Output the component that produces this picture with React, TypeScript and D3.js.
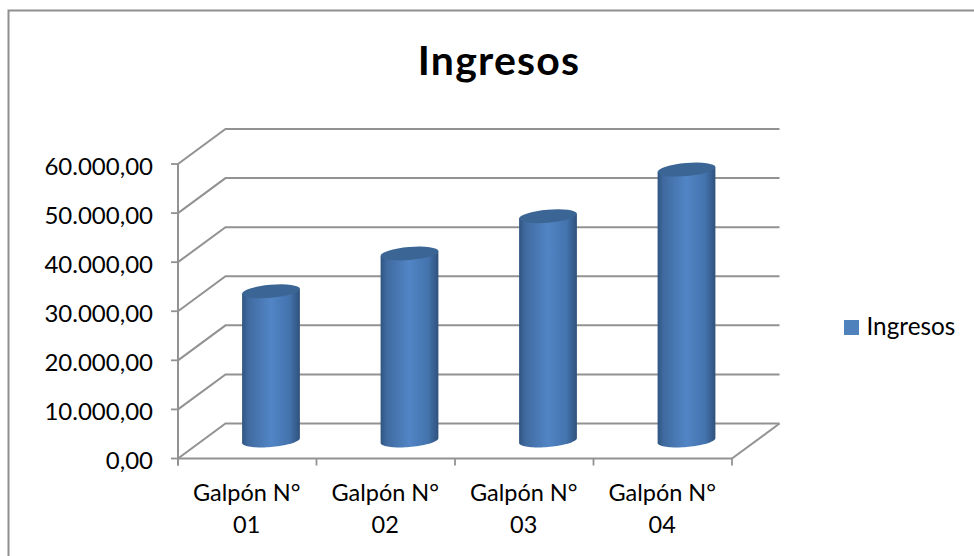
import React from "react";
import { scaleLinear, scaleBand, range, line, curveLinear } from "d3";

const categories = ["Galpón N° 01", "Galpón N° 02", "Galpón N° 03", "Galpón N° 04"];
const ingresos = [30400, 38100, 45700, 55200];
const yTicks = [0, 10000, 20000, 30000, 40000, 50000, 60000];
const yLabels = ["0,00", "10.000,00", "20.000,00", "30.000,00", "40.000,00", "50.000,00", "60.000,00"];
const title = "Ingresos";
const seriesName = "Ingresos";

const FONT = "Lato, Carlito, 'Open Sans', sans-serif";
const GRID = "#929292";

export default function App() {
  const x0 = 178, x1 = 732, y0 = 458.5, yTop = 164;
  const dx = 47.5, dy = -35;
  const y = scaleLinear().domain([0, 60000]).range([y0, yTop]);
  const x = scaleBand<string>().domain(categories).range([x0, x1]);
  const barW = 58;
  const rx = barW / 2, ry = 6.5, tilt = -5;
  const a = (tilt * Math.PI) / 180;
  const baseOffsetX = dx / 2, baseOffsetY = -18;
  const t0 = Math.atan2(-ry * Math.sin(a), rx * Math.cos(a));
  const ex = (t: number) => rx * Math.cos(t) * Math.cos(a) - ry * Math.sin(t) * Math.sin(a);
  const ey = (t: number) => rx * Math.cos(t) * Math.sin(a) + ry * Math.sin(t) * Math.cos(a);
  const steps = range(0, 41).map((k) => t0 + (k / 40) * Math.PI);
  const path = line<[number, number]>().curve(curveLinear);

  return (
    <svg width={974} height={556} style={{ position: "absolute", left: 0, top: 0, background: "#fff" }}>
      <defs>
        <linearGradient id="cyl" x1="0" x2="1" y1="0" y2="0">
          <stop offset="0" stopColor="#2f5480" />
          <stop offset="0.1" stopColor="#3f6a9f" />
          <stop offset="0.5" stopColor="#5285c6" />
          <stop offset="0.82" stopColor="#4473ad" />
          <stop offset="1" stopColor="#2f527c" />
        </linearGradient>
      </defs>
      <path d="M8.5,556V10.5H974" fill="none" stroke="#8f8f8f" strokeWidth={2} />

      <text x={499} y={75} textAnchor="middle" fontFamily={FONT} fontWeight={700} fontSize={41} letterSpacing={1.2} fill="#000">{title}</text>

      {yTicks.map((t) => (
        <g key={t}>
          <path d={`M${x0},${y(t)}L${x0 + dx},${y(t) + dy}H${x1 + dx}`} fill="none" stroke={GRID} strokeWidth={2} />
          <line x1={x0 - 7} x2={x0} y1={y(t)} y2={y(t)} stroke={GRID} strokeWidth={1.8} />
        </g>
      ))}
      <line x1={x0} x2={x0} y1={yTop} y2={y0 + 7} stroke={GRID} strokeWidth={2} />
      <line x1={x0} x2={x1} y1={y0} y2={y0} stroke={GRID} strokeWidth={2} />
      <line x1={x1} x2={x1 + dx} y1={y0} y2={y0 + dy} stroke={GRID} strokeWidth={2} />
      {range(categories.length + 1).map((i) => {
        const px = x0 + i * x.bandwidth();
        return <line key={i} x1={px} x2={px} y1={y0} y2={y0 + 7} stroke={GRID} strokeWidth={1.8} />;
      })}

      {yTicks.map((t, i) => (
        <text key={t} x={153} y={y(t) + 10.5} textAnchor="end" fontFamily={FONT} fontSize={24} fill="#000">{yLabels[i]}</text>
      ))}

      {categories.map((c, i) => {
        const cx = (x(c) as number) + x.bandwidth() / 2 + baseOffsetX;
        const yb = y(0) + baseOffsetY;
        const yt = y(ingresos[i]) + baseOffsetY;
        const bottom = steps.map((t): [number, number] => [cx + ex(t), yb + ey(t)]);
        const d = `${path(bottom)}L${cx - ex(t0)},${yt - ey(t0)}L${cx + ex(t0)},${yt + ey(t0)}Z`;
        return (
          <g key={c}>
            <path d={d} fill="url(#cyl)" />
            <ellipse cx={cx} cy={yt} rx={rx} ry={ry} transform={`rotate(${tilt} ${cx} ${yt})`} fill="#3b6595" />
          </g>
        );
      })}

      {categories.map((c) => {
        const cx = (x(c) as number) + x.bandwidth() / 2 - 0.5;
        const parts = c.split(" ");
        return (
          <text key={c} textAnchor="middle" fontFamily={FONT} fontSize={23.5} fill="#000">
            <tspan x={cx} y={501}>{parts[0] + " " + parts[1]}</tspan>
            <tspan x={cx} y={533}>{parts[2]}</tspan>
          </text>
        );
      })}

      <rect x={844} y={320} width={15} height={15} fill="#4f81bd" />
      <text x={866.5} y={335} fontFamily={FONT} fontSize={24.3} fill="#000">{seriesName}</text>
    </svg>
  );
}
